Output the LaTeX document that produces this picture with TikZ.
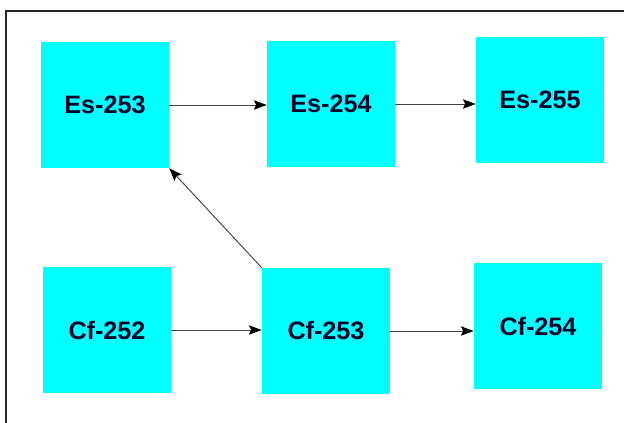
\documentclass[tikz,border=0pt]{standalone}
\usepackage{fontspec}
\setmainfont{Liberation Sans}
\usetikzlibrary{arrows.meta}
\definecolor{boxcyan}{RGB}{0,255,255}

\tikzset{
  nuclide/.style={fill=boxcyan, minimum width=3.84cm, minimum height=3.78cm,
    inner sep=0pt, font=\bfseries\fontsize{21.5}{24}\selectfont, text=black!85!blue},
  decay/.style={-{Stealth[length=11pt,width=8pt,inset=2pt,color=black]}, draw=black!75, line width=0.8pt}
}

\begin{document}
\begin{tikzpicture}[x=0.03cm, y=-0.03cm]
\useasboundingbox (0,0) rectangle (624,422);
% Draw frame
\draw[line width=1.6pt, black!85] (6,440) |- (640,11);
% Draw nuclides
\node[nuclide] (es253) at (105,105) {Es-253};
\node[nuclide] (es254) at (331,104) {Es-254};
\node[nuclide] (es255) at (540,100) {Es-255};
\node[nuclide] (cf252) at (107,330) {Cf-252};
\node[nuclide] (cf253) at (326,331) {Cf-253};
\node[nuclide] (cf254) at (538,326) {Cf-254};
% Draw decays
\draw[decay] (es253.east) -- (es254.west |- es253.east);
\draw[decay] (es254.east) -- (es255.west |- es254.east);
\draw[decay] (cf252.east) -- (cf253.west |- cf252.east);
\draw[decay] (cf253.east) -- (cf254.west |- cf253.east);
\draw[decay] (cf253.north west) -- (es253.south east);
\end{tikzpicture}
\end{document}
